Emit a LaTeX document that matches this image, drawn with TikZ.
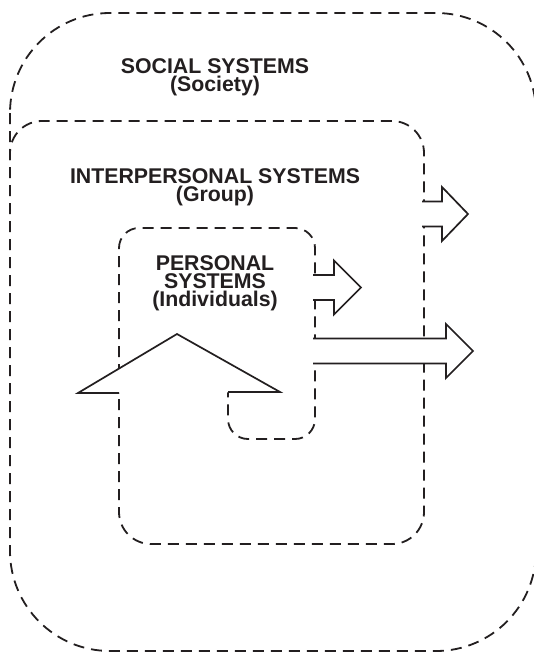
\documentclass[tikz,border=0pt]{standalone}
\usepackage{fontspec}
\usepackage{xcolor}
\usepackage{tikz}
\setmainfont{Liberation Sans}
\definecolor{ink}{HTML}{231F20}

\begin{document}
\begin{tikzpicture}[x=1pt, y=-1pt,
    boundary/.style={draw=ink, line width=1.8pt, dash pattern=on 11pt off 7pt},
    arrowline/.style={draw=ink, line width=1.7pt, line join=miter},
    level/.style={text=ink, font=\fontsize{21.3}{18}\selectfont\bfseries, align=center, anchor=base, inner sep=0pt}]
% Draw page area
\path[use as bounding box, fill=white] (0,0) rectangle (533,653);

% Draw system boundaries
\draw[boundary, rounded corners=100] (10,13) rectangle (536,651);
\draw[boundary, rounded corners=32] (10,160) -- (10,121) -- (424,121) -- (424,544) -- (119,544) -- (119,393);
\draw[boundary, rounded corners=20] (119,393) -- (119,228) -- (315,228) -- (315,439) -- (228,439) -- (228,392);

% Draw arrows going out
\foreach \xa/\yc/\xb/\xc in {313/287.5/334/361, 422/214/442/468, 313/351/446/473} {
    \fill[white] (\xa,\yc-12.5) -- (\xb,\yc-12.5) -- (\xb,\yc-27) -- (\xc,\yc) -- (\xb,\yc+27) -- (\xb,\yc+12.5) -- (\xa,\yc+12.5) -- cycle;
    \draw[arrowline] (\xa,\yc-12.5) -- (\xb,\yc-12.5) -- (\xb,\yc-27) -- (\xc,\yc) -- (\xb,\yc+27) -- (\xb,\yc+12.5) -- (\xa,\yc+12.5);
}

% Draw arrow going up
\fill[white] (78,393) -- (177,334) -- (280,392) -- cycle;
\draw[arrowline] (119,393) -- (78,393) -- (177,334) -- (280,392) -- (228,392);

% Draw labels (anchored at the last line)
\node[level] (social) at (215,91) {SOCIAL SYSTEMS\\(Society)};
\node[level] (interpersonal) at (215,201) {INTERPERSONAL SYSTEMS\\(Group)};
\node[level] (personal) at (215,306) {PERSONAL\\SYSTEMS\\(Individuals)};
\end{tikzpicture}
\end{document}
